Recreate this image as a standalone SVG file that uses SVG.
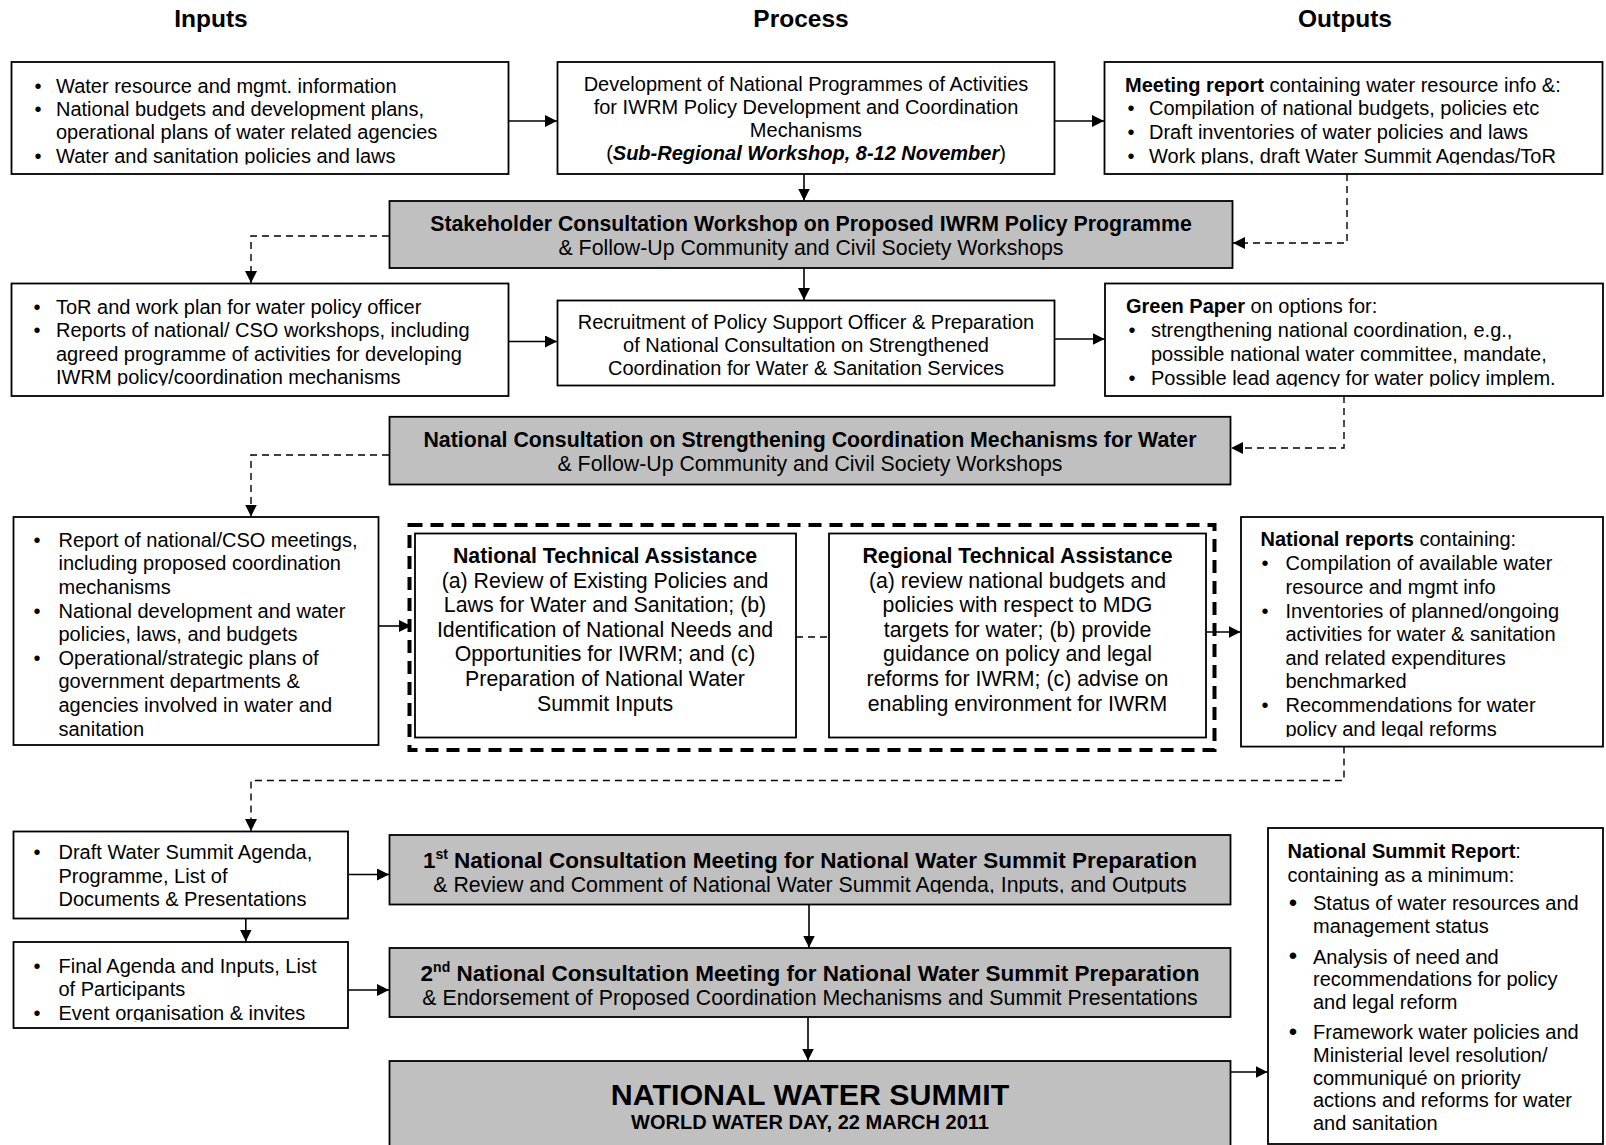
<svg xmlns="http://www.w3.org/2000/svg" width="1606" height="1145" viewBox="0 0 1606 1145">
<style>
text{font-family:"Liberation Sans",Arial,sans-serif;font-size:20px;fill:#000}
.g{font-size:21.3px}
.t1{font-size:22.5px}
.h{font-size:24.5px;font-weight:bold}
.b{font-weight:bold}
.bi{font-weight:bold;font-style:italic}
.m{text-anchor:middle}
.box{fill:#fff;stroke:#000;stroke-width:1.8}
.gbox{fill:#c0c0c0;stroke:#000;stroke-width:1.8}
.c{fill:none;stroke:#000;stroke-width:1.6}
.d{fill:none;stroke:#000;stroke-width:1.4;stroke-dasharray:7 5}
.cont{fill:none;stroke:#000;stroke-width:4;stroke-dasharray:13 8}
.sup{font-size:14px}
.bl{font-size:24px}
</style>
<defs>
<marker id="ah" markerUnits="userSpaceOnUse" markerWidth="12" markerHeight="12" refX="12" refY="6" orient="auto">
<path d="M0,0 L12,6 L0,12 Z" fill="#000"/>
</marker>
<clipPath id="cl-in1" clipPathUnits="userSpaceOnUse"><rect x="0" y="60" width="520" height="104.5"/></clipPath>
<clipPath id="cl-out1" clipPathUnits="userSpaceOnUse"><rect x="1100" y="60" width="506" height="104.5"/></clipPath>
<clipPath id="cl-in2" clipPathUnits="userSpaceOnUse"><rect x="0" y="280" width="520" height="105.5"/></clipPath>
<clipPath id="cl-out2" clipPathUnits="userSpaceOnUse"><rect x="1100" y="280" width="506" height="106.5"/></clipPath>
<clipPath id="cl-out3" clipPathUnits="userSpaceOnUse"><rect x="1240" y="515" width="366" height="222"/></clipPath>
<clipPath id="cl-in5" clipPathUnits="userSpaceOnUse"><rect x="0" y="940" width="360" height="81.5"/></clipPath>
<clipPath id="cl-1st" clipPathUnits="userSpaceOnUse"><rect x="380" y="833" width="860" height="60.5"/></clipPath>
</defs>

<g id="headers">
<text class="h m" x="211" y="27">Inputs</text>
<text class="h m" x="801" y="27">Process</text>
<text class="h m" x="1345" y="27">Outputs</text>
</g>

<g id="in1">
<rect class="box" x="11.5" y="62" width="497" height="112"/>
<g clip-path="url(#cl-in1)">
<text class="m" x="38" y="92.5">•</text><text x="56" y="92.5">Water resource and mgmt. information</text>
<text class="m" x="38" y="115.8">•</text><text x="56" y="115.8">National budgets and development plans,</text>
<text x="56" y="139.1">operational plans of water related agencies</text>
<text class="m" x="38" y="162.6">•</text><text x="56" y="162.6">Water and sanitation policies and laws</text>
</g>
</g>

<g id="pr1">
<rect class="box" x="557.5" y="62" width="497" height="112"/>
<text class="m" x="806" y="91">Development of National Programmes of Activities</text>
<text class="m" x="806" y="114">for IWRM Policy Development and Coordination</text>
<text class="m" x="806" y="137">Mechanisms</text>
<text class="m" x="806" y="160">(<tspan class="bi">Sub-Regional Workshop, 8-12 November</tspan>)</text>
</g>

<g id="out1">
<rect class="box" x="1104.5" y="62" width="498" height="112"/>
<g clip-path="url(#cl-out1)">
<text x="1125" y="91.5"><tspan class="b">Meeting report</tspan> containing water resource info &amp;:</text>
<text class="m" x="1131" y="115.2">•</text><text x="1149" y="115.2">Compilation of national budgets, policies etc</text>
<text class="m" x="1131" y="139">•</text><text x="1149" y="139">Draft inventories of water policies and laws</text>
<text class="m" x="1131" y="162.8">•</text><text x="1149" y="162.8">Work plans, draft Water Summit Agendas/ToR</text>
</g>
</g>

<g id="stake">
<rect class="gbox" x="389.5" y="201" width="843" height="67"/>
<text class="g b m" x="811" y="230.5">Stakeholder Consultation Workshop on Proposed IWRM Policy Programme</text>
<text class="g m" x="811" y="255">&amp; Follow-Up Community and Civil Society Workshops</text>
</g>

<g id="in2">
<rect class="box" x="11.5" y="283.5" width="497" height="112.5"/>
<g clip-path="url(#cl-in2)">
<text class="m" x="37" y="313.5">•</text><text x="56" y="313.5">ToR and work plan for water policy officer</text>
<text class="m" x="37" y="337">•</text><text x="56" y="337">Reports of national/ CSO workshops, including</text>
<text x="56" y="360.5">agreed programme of activities for developing</text>
<text x="56" y="384">IWRM policy/coordination mechanisms</text>
</g>
</g>

<g id="pr2">
<rect class="box" x="557.5" y="300.5" width="497" height="85"/>
<text class="m" x="806" y="329">Recruitment of Policy Support Officer &amp; Preparation</text>
<text class="m" x="806" y="352">of National Consultation on Strengthened</text>
<text class="m" x="806" y="375">Coordination for Water &amp; Sanitation Services</text>
</g>

<g id="out2">
<rect class="box" x="1105" y="283.5" width="498" height="112.5"/>
<g clip-path="url(#cl-out2)">
<text x="1126" y="313"><tspan class="b">Green Paper</tspan> on options for:</text>
<text class="m" x="1132" y="337">•</text><text x="1151" y="337">strengthening national coordination, e.g.,</text>
<text x="1151" y="360.5">possible national water committee, mandate,</text>
<text class="m" x="1132" y="384.8">•</text><text x="1151" y="384.8">Possible lead agency for water policy implem.</text>
</g>
</g>

<g id="natcons">
<rect class="gbox" x="389.5" y="416.8" width="841" height="67.7"/>
<text class="g b m" x="810" y="446.5">National Consultation on Strengthening Coordination Mechanisms for Water</text>
<text class="g m" x="810" y="471">&amp; Follow-Up Community and Civil Society Workshops</text>
</g>

<g id="in3">
<rect class="box" x="13.5" y="517" width="365" height="228"/>
<text class="m" x="37" y="546.7">•</text><text x="58.5" y="546.7">Report of national/CSO meetings,</text>
<text x="58.5" y="570.3">including proposed coordination</text>
<text x="58.5" y="593.9">mechanisms</text>
<text class="m" x="37" y="617.5">•</text><text x="58.5" y="617.5">National development and water</text>
<text x="58.5" y="641.1">policies, laws, and budgets</text>
<text class="m" x="37" y="664.7">•</text><text x="58.5" y="664.7">Operational/strategic plans of</text>
<text x="58.5" y="688.3">government departments &amp;</text>
<text x="58.5" y="711.9">agencies involved in water and</text>
<text x="58.5" y="735.5">sanitation</text>
</g>

<g id="ta-group">
<rect class="cont" x="409.5" y="525" width="805" height="225"/>
</g>

<g id="nta">
<rect class="box" x="415" y="533.5" width="381" height="204"/>
<text class="g b m" x="605" y="563">National Technical Assistance</text>
<text class="g m" x="605" y="587.6">(a) Review of Existing Policies and</text>
<text class="g m" x="605" y="612.2">Laws for Water and Sanitation; (b)</text>
<text class="g m" x="605" y="636.8">Identification of National Needs and</text>
<text class="g m" x="605" y="661.4">Opportunities for IWRM; and (c)</text>
<text class="g m" x="605" y="686">Preparation of National Water</text>
<text class="g m" x="605" y="710.6">Summit Inputs</text>
</g>

<g id="rta">
<rect class="box" x="829" y="533.5" width="377" height="204"/>
<text class="g b m" x="1017.5" y="563">Regional Technical Assistance</text>
<text class="g m" x="1017.5" y="587.6">(a) review national budgets and</text>
<text class="g m" x="1017.5" y="612.2">policies with respect to MDG</text>
<text class="g m" x="1017.5" y="636.8">targets for water; (b) provide</text>
<text class="g m" x="1017.5" y="661.4">guidance on policy and legal</text>
<text class="g m" x="1017.5" y="686">reforms for IWRM; (c) advise on</text>
<text class="g m" x="1017.5" y="710.6">enabling environment for IWRM</text>
</g>

<g id="out3">
<rect class="box" x="1241" y="517" width="362" height="229.6"/>
<g clip-path="url(#cl-out3)">
<text x="1260.5" y="545.7"><tspan class="b">National reports</tspan> containing:</text>
<text class="m" x="1265" y="570.3">•</text><text x="1285.5" y="570.3">Compilation of available water</text>
<text x="1285.5" y="593.9">resource and mgmt info</text>
<text class="m" x="1265" y="617.5">•</text><text x="1285.5" y="617.5">Inventories of planned/ongoing</text>
<text x="1285.5" y="641.1">activities for water &amp; sanitation</text>
<text x="1285.5" y="664.7">and related expenditures</text>
<text x="1285.5" y="688.3">benchmarked</text>
<text class="m" x="1265" y="711.9">•</text><text x="1285.5" y="711.9">Recommendations for water</text>
<text x="1285.5" y="735.5">policy and legal reforms</text>
</g>
</g>

<g id="in4">
<rect class="box" x="13.5" y="831.5" width="334.5" height="87"/>
<text class="m" x="37" y="859">•</text><text x="58.5" y="859">Draft Water Summit Agenda,</text>
<text x="58.5" y="882.6">Programme, List of</text>
<text x="58.5" y="906.2">Documents &amp; Presentations</text>
</g>

<g id="in5">
<rect class="box" x="13.5" y="942" width="334.5" height="86"/>
<g clip-path="url(#cl-in5)">
<text class="m" x="37" y="972.8">•</text><text x="58.5" y="972.8">Final Agenda and Inputs, List</text>
<text x="58.5" y="996.4">of Participants</text>
<text class="m" x="37" y="1020">•</text><text x="58.5" y="1020">Event organisation &amp; invites</text>
</g>
</g>

<g id="meeting1">
<rect class="gbox" x="389.5" y="835" width="841" height="69.5"/>
<g clip-path="url(#cl-1st)">
<text class="t1 b m" x="810" y="868">1<tspan class="sup" dy="-9">st</tspan><tspan dy="9"> National Consultation Meeting for National Water Summit Preparation</tspan></text>
<text class="g m" x="810" y="892.3">&amp; Review and Comment of National Water Summit Agenda, Inputs, and Outputs</text>
</g>
</g>

<g id="meeting2">
<rect class="gbox" x="389.5" y="948" width="841" height="69"/>
<text class="t1 b m" x="810" y="980.8">2<tspan class="sup" dy="-9">nd</tspan><tspan dy="9"> National Consultation Meeting for National Water Summit Preparation</tspan></text>
<text class="g m" x="810" y="1005">&amp; Endorsement of Proposed Coordination Mechanisms and Summit Presentations</text>
</g>

<g id="summit">
<rect class="gbox" x="389.5" y="1061" width="841" height="100"/>
<text class="b m" x="810" y="1105" style="font-size:30.4px">NATIONAL WATER SUMMIT</text>
<text class="b m" x="810" y="1128.5">WORLD WATER DAY, 22 MARCH 2011</text>
</g>

<g id="out4">
<rect class="box" x="1268" y="828" width="335" height="316"/>
<text x="1287.5" y="858"><tspan class="b">National Summit Report</tspan>:</text>
<text x="1287.5" y="882">containing as a minimum:</text>
<text class="m bl" x="1293" y="910.8">•</text><text x="1313" y="910.3">Status of water resources and</text>
<text x="1313" y="933.1">management status</text>
<text class="m bl" x="1293" y="964.1">•</text><text x="1313" y="963.6">Analysis of need and</text>
<text x="1313" y="986.4">recommendations for policy</text>
<text x="1313" y="1009.2">and legal reform</text>
<text class="m bl" x="1293" y="1039.5">•</text><text x="1313" y="1039">Framework water policies and</text>
<text x="1313" y="1061.8">Ministerial level resolution/</text>
<text x="1313" y="1084.6">communiqué on priority</text>
<text x="1313" y="1107.4">actions and reforms for water</text>
<text x="1313" y="1130.2">and sanitation</text>
</g>

<g id="connectors">
<line class="c" x1="509" y1="121" x2="557" y2="121" marker-end="url(#ah)"/>
<line class="c" x1="1055" y1="121" x2="1104" y2="121" marker-end="url(#ah)"/>
<line class="c" x1="804" y1="174" x2="804" y2="200.5" marker-end="url(#ah)"/>
<line class="c" x1="804" y1="268" x2="804" y2="300" marker-end="url(#ah)"/>
<line class="c" x1="509" y1="341.5" x2="557" y2="341.5" marker-end="url(#ah)"/>
<line class="c" x1="1055" y1="339" x2="1104.5" y2="339" marker-end="url(#ah)"/>
<line class="c" x1="379" y1="626" x2="411" y2="626" marker-end="url(#ah)"/>
<line class="c" x1="1206" y1="632" x2="1240.5" y2="632" marker-end="url(#ah)"/>
<line class="c" x1="348" y1="874.5" x2="389" y2="874.5" marker-end="url(#ah)"/>
<line class="c" x1="245.8" y1="918.5" x2="245.8" y2="941.5" marker-end="url(#ah)"/>
<line class="c" x1="348" y1="990" x2="389" y2="990" marker-end="url(#ah)"/>
<line class="c" x1="809" y1="904.5" x2="809" y2="947.5" marker-end="url(#ah)"/>
<line class="c" x1="808" y1="1017" x2="808" y2="1060.5" marker-end="url(#ah)"/>
<line class="c" x1="1231" y1="1072" x2="1267.5" y2="1072" marker-end="url(#ah)"/>
<polyline class="d" points="389,236 251,236 251,283" marker-end="url(#ah)"/>
<polyline class="d" points="1347,174 1347,243 1233,243" marker-end="url(#ah)"/>
<polyline class="d" points="389,455 251,455 251,516.5" marker-end="url(#ah)"/>
<polyline class="d" points="1344,396 1344,448 1231,448" marker-end="url(#ah)"/>
<line class="d" x1="796" y1="637" x2="829" y2="637"/>
<polyline class="d" points="1344,746.6 1344,780.5 251,780.5 251,831" marker-end="url(#ah)"/>
</g>
</svg>
